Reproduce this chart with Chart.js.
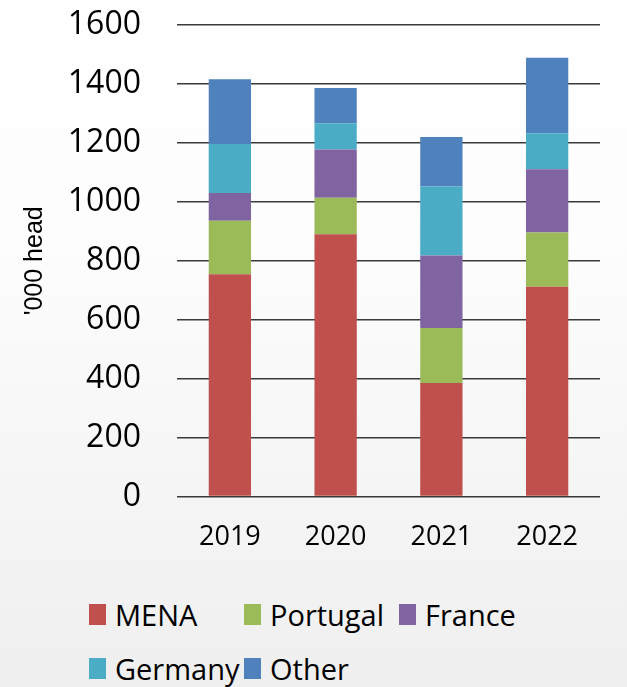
<!DOCTYPE html>
<html>
<head>
<meta charset="utf-8">
<script src="https://cdn.jsdelivr.net/npm/chart.js@4"></script>
<style>
    html, body {
        margin: 0;
        padding: 0;
    }
    body {
        width: 627px;
        height: 687px;
        overflow: hidden;
        background: linear-gradient(to bottom, #ffffff 0%, #fdfdfd 35%, #efefef 100%);
        font-family: "Open Sans", sans-serif;
    }
    #chart-wrap {
        position: relative;
        width: 627px;
        height: 571px;
    }
    #legend {
        display: grid;
        grid-template-columns: 155px 155px 155px;
        padding-left: 89px;
        row-gap: 10px;
        margin-top: 21px;
    }
    .legend-item {
        display: flex;
        align-items: center;
        height: 44px;
        font-size: 29px;
        color: #000;
        white-space: nowrap;
    }
    .legend-box {
        width: 17px;
        height: 21px;
        margin-right: 9px;
        flex: none;
    }
</style>
</head>
<body>
<div id="chart-wrap"><canvas id="chart"></canvas></div>
<div id="legend"></div>
<script>
// Data
const years = ['2019', '2020', '2021', '2022'];
const mena = [754, 890, 385, 712];
const portugal = [182, 124, 187, 184];
const france = [94, 164, 246, 215];
const germany = [166, 89, 234, 122];
const other = [220, 119, 168, 256];
const yTicks = [0, 200, 400, 600, 800, 1000, 1200, 1400, 1600];

const seriesNames = ['MENA', 'Portugal', 'France', 'Germany', 'Other'];
const seriesValues = [mena, portugal, france, germany, other];
const seriesColors = ['#C0504D', '#9BBB59', '#8064A2', '#4BACC6', '#4F81BD'];

const ctx = document.getElementById('chart').getContext('2d');

const chart = new Chart(ctx, {
    type: 'bar',
    data: {
        labels: years,
        datasets: seriesNames.map((name, i) => ({
            label: name,
            data: seriesValues[i],
            backgroundColor: seriesColors[i],
            borderWidth: 0,
            barPercentage: 0.4,
            categoryPercentage: 1.0
        }))
    },
    options: {
        responsive: true,
        maintainAspectRatio: false,
        animation: false,
        layout: {
            padding: { left: 10, right: 27, top: 25, bottom: 0 }
        },
        plugins: {
            legend: { display: false },
            tooltip: { enabled: false }
        },
        scales: {
            x: {
                stacked: true,
                grid: { display: false },
                border: { display: false },
                ticks: {
                    color: '#000',
                    padding: 17,
                    font: { family: 'Open Sans', size: 27 }
                }
            },
            y: {
                stacked: true,
                min: 0,
                max: 1600,
                afterBuildTicks: function(axis) {
                    axis.ticks = yTicks.map(v => ({ value: v }));
                },
                afterFit: function(axis) {
                    // fixed axis width and no extra top space, to line up with the original
                    axis.width = 167;
                    axis.paddingTop = 0;
                },
                grid: {
                    color: '#3a3a3a',
                    lineWidth: 1.5,
                    drawTicks: false
                },
                border: { display: false },
                ticks: {
                    color: '#000',
                    padding: 36,
                    font: { family: 'Open Sans', size: 32 },
                    callback: function(value) {
                        return String(value);
                    }
                },
                title: {
                    display: true,
                    text: "'000 head",
                    color: '#000',
                    padding: { top: 10, bottom: 18 },
                    font: { family: 'Liberation Sans', size: 25 }
                }
            }
        }
    }
});

// HTML legend in a fixed grid, like the original
const legendEl = document.getElementById('legend');
chart.data.datasets.forEach(ds => {
    const item = document.createElement('div');
    item.className = 'legend-item';
    const box = document.createElement('span');
    box.className = 'legend-box';
    box.style.background = ds.backgroundColor;
    const label = document.createElement('span');
    label.textContent = ds.label;
    item.appendChild(box);
    item.appendChild(label);
    legendEl.appendChild(item);
});
</script>
</body>
</html>
